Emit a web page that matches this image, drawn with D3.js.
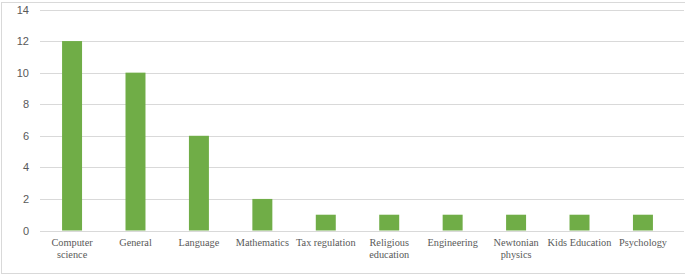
<!DOCTYPE html>
<html><head><meta charset="utf-8">
<script src="https://cdn.jsdelivr.net/npm/d3@7"></script>
<style>body{margin:0;background:#fff}svg{display:block}</style>
</head><body>
<script>
const categories = ["Computer science","General","Language","Mathematics","Tax regulation","Religious education","Engineering","Newtonian physics","Kids Education","Psychology"];
const values = [12,10,6,2,1,1,1,1,1,1];
const yTicks = [0,2,4,6,8,10,12,14];

const W = 685, H = 275;
const svg = d3.select("body").append("svg").attr("width", W).attr("height", H);
svg.append("rect").attr("x",1.5).attr("y",2.5).attr("width",W+10).attr("height",271)
  .attr("fill","#fff").attr("stroke","#d9d9d9");

const x = d3.scaleBand().domain(categories).range([40.5, 674.5]).paddingInner(0.685).paddingOuter(0.34);
const y = d3.scaleLinear().domain([0,14]).range([230.5, 9.5]);

const grid = svg.append("g");
grid.selectAll("line").data(yTicks).join("line")
  .attr("x1", 40).attr("x2", 684)
  .attr("y1", d => Math.round(y(d))+0.5).attr("y2", d => Math.round(y(d))+0.5)
  .attr("stroke", "#d9d9d9").attr("stroke-width", 1);

const yAxis = d3.axisLeft(y).tickValues(yTicks).tickSize(0).tickPadding(0);
const ya = svg.append("g").attr("transform","translate(29,0)").call(yAxis);
ya.select(".domain").remove();
ya.selectAll("text").attr("fill","#595959").style("font-family","'Liberation Sans', Arial, sans-serif").style("font-size","11px");

svg.append("g").selectAll("rect").data(values).join("rect")
  .attr("x", (d,i) => x(categories[i]))
  .attr("width", x.bandwidth())
  .attr("y", d => y(d))
  .attr("height", d => y(0) - y(d))
  .attr("fill", "#70ad47");

const xAxis = d3.axisBottom(x).tickSize(0).tickPadding(0);
const xa = svg.append("g").attr("transform","translate(0,231)").call(xAxis);
xa.attr("font-family", null).attr("font-size", null);
xa.select(".domain").remove();
xa.selectAll("text").attr("fill","#595959")
  .style("font-family","'Liberation Serif','Times New Roman',serif").style("font-size","10.3px")
  .attr("y", 15).attr("dy", 0)
  .each(function(d){
    const t = d3.select(this);
    const words = d.split(" ");
    t.text(null);
    let line = [], ts = t.append("tspan").attr("x",0).attr("y",15);
    let ln = 0;
    for (const w of words) {
      line.push(w);
      ts.text(line.join(" "));
      if (ts.node().getComputedTextLength() > 65 && line.length > 1) {
        line.pop(); ts.text(line.join(" "));
        line = [w]; ln++;
        ts = t.append("tspan").attr("x",0).attr("y",15 + ln*12).text(w);
      }
    }
  });
</script>
</body></html>
